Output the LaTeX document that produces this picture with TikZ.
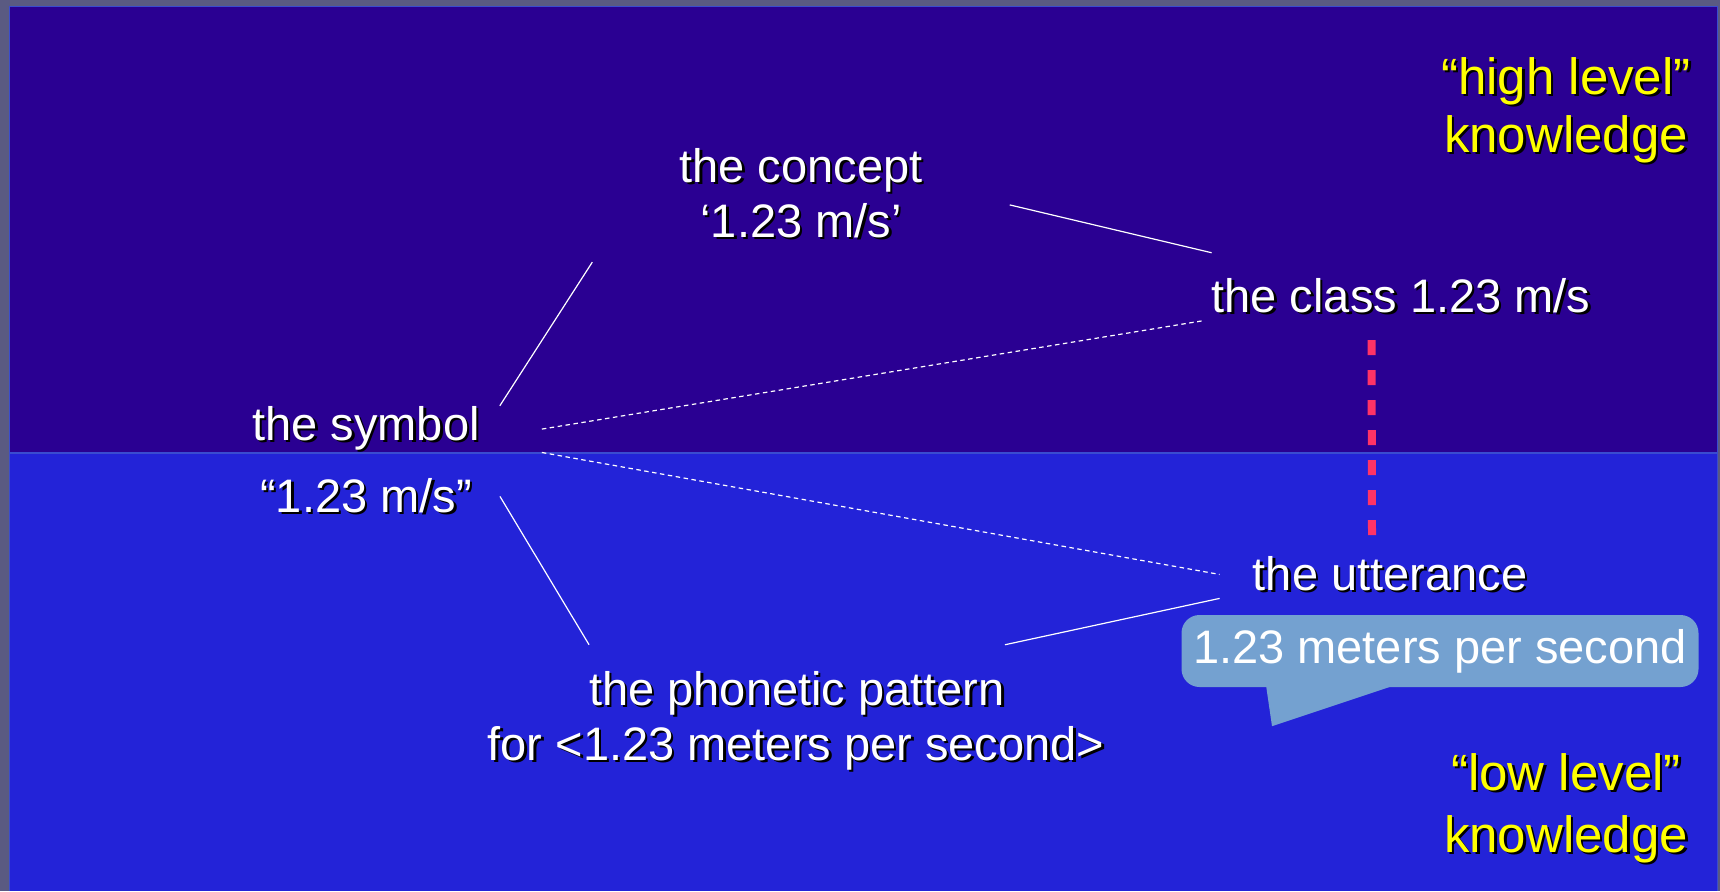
\documentclass[tikz,border=0pt]{standalone}
\usepackage{fontspec}
\setmainfont{Liberation Sans}
\usetikzlibrary{positioning,calc}

\definecolor{slidegrey}{HTML}{5A5A82}
\definecolor{highblue}{HTML}{2A0092}
\definecolor{lowblue}{HTML}{2323D8}
\definecolor{seamblue}{HTML}{3A4CD0}
\definecolor{samered}{HTML}{FF3366}
\definecolor{bubblefill}{HTML}{74A1D0}
\definecolor{hintyellow}{HTML}{FFFF00}

% text with a black drop shadow
\newcommand{\shd}[1]{\leavevmode\rlap{\kern2.5pt\raisebox{-2.5pt}{\color{black}#1}}#1}

\tikzset{
  lbl/.style={text=white, font=\fontsize{47}{55}\selectfont, inner sep=0pt, anchor=base},
  hint/.style={lbl, text=hintyellow, align=center, font=\fontsize{51}{58}\selectfont},
  link/.style={draw=white, line width=1.2pt},
  weak/.style={link, dash pattern=on 4.5pt off 3.5pt},
  same/.style={draw=samered, line width=8pt, dash pattern=on 15pt off 15pt},
}

\begin{document}
\begin{tikzpicture}[x=1pt,y=-1pt]
  \useasboundingbox (0,0) rectangle (1720,891);
  % slide background
  \fill[slidegrey] (0,0) rectangle (1720,891);
  \fill[highblue] (9,6) rectangle (1717,453);
  \fill[lowblue] (9,453) rectangle (1717,891);
  \draw[seamblue, line width=1.5pt] (9,453) -- (1717,453);
  \draw[seamblue, line width=0.8pt] (9,891) -- (9,6) -- (1717,6) -- (1717,891);

  % knowledge levels (base = last line)
  \node[hint] (high) at (1566,152) {\shd{“high level”}\\\shd{knowledge}};
  \node[hint, font=\fontsize{51}{62}\selectfont] (low) at (1566,852) {\shd{“low level”}\\\shd{knowledge}};

  % the four corners
  \node[lbl, align=center, inner xsep=87pt, inner ysep=22pt] (concept) at (801,237)
    {\shd{the concept}\\\shd{‘1.23 m/s’}};
  \node[lbl, inner xsep=9pt, inner ysep=25pt] (class) at (1401,312) {\shd{the class 1.23 m/s}};
  \node[lbl, inner xsep=20pt] (symbol) at (366,440) {\shd{the symbol}};
  \node[lbl, inner xsep=28pt] (value) at (366,512) {\shd{“1.23 m/s”}};
  \node[lbl, inner xsep=33pt, inner ysep=19pt] (utterance) at (1390,590) {\shd{the utterance}};
  \node[lbl, inner ysep=26pt] (phonetic) at (797,705) {\shd{the phonetic pattern}};
  \node[lbl] (pattern) at (796,760) {\shd{for <1.23 meters per second>}};

  % speech bubble
  \node[lbl, anchor=center, fill=bubblefill, rounded corners=18pt,
        minimum width=517pt, minimum height=72pt] (speech) at (1440,651) {1.23 meters per second};
  \fill[bubblefill] ([xshift=-174pt,yshift=2pt]speech.south) -- ([xshift=-168pt,yshift=-39pt]speech.south)
    -- ([xshift=-45pt,yshift=2pt]speech.south) -- cycle;

  % connectors
  \draw[link] (concept.south west) -- (symbol.north east);
  \draw[link] (concept.-3) -- (class.167);
  \draw[weak] ([xshift=42pt]symbol.east) -- (class.187);
  \draw[weak] ([xshift=42pt]symbol.south east) -- (utterance.west);
  \draw[link] (value.east) -- (phonetic.north west);
  \draw[link] (phonetic.north east) -- (utterance.188);
  \draw[same] ([xshift=-29.5pt]class.south) -- ([xshift=-18pt]utterance.north);
\end{tikzpicture}
\end{document}
